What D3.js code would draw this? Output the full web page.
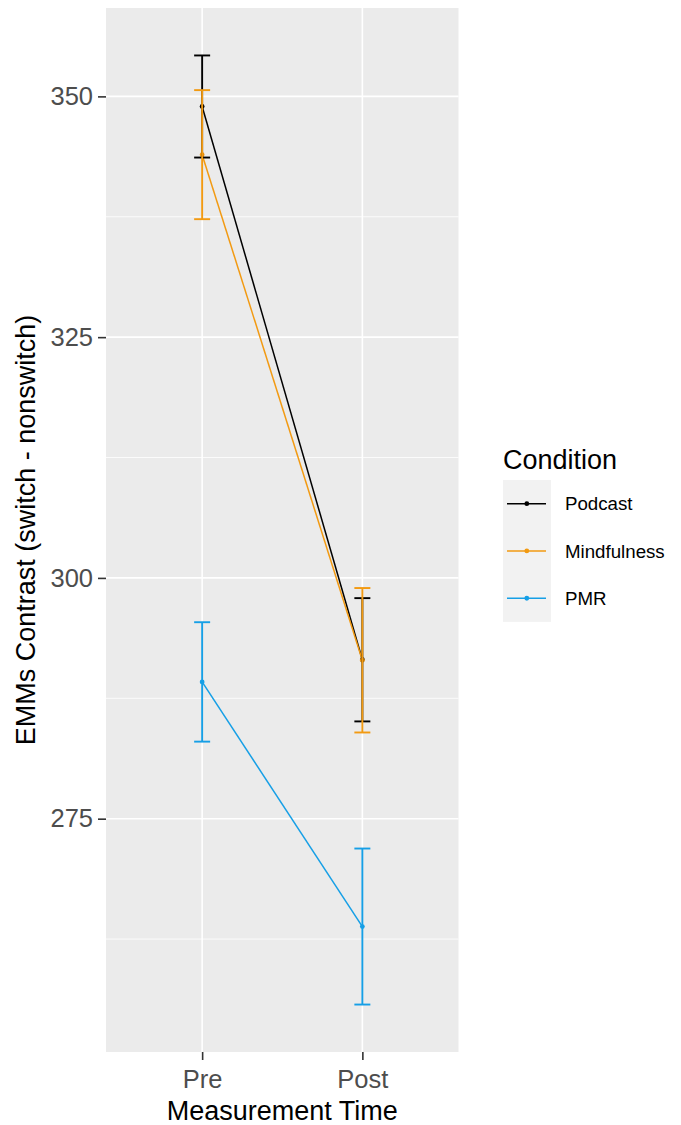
<!DOCTYPE html>
<html>
<head>
<meta charset="utf-8">
<script src="https://cdn.jsdelivr.net/npm/d3@7"></script>
<style>
  html, body { margin: 0; padding: 0; background: #fff; }
  svg { display: block; font-family: "Liberation Sans", Arial, sans-serif; }
</style>
</head>
<body>
<svg id="chart" width="681" height="1125"></svg>
<script>
// ---- data ----
const times = ["Pre", "Post"];
const conditions = ["Podcast", "Mindfulness", "PMR"];
const colors = ["#000000", "#F29A12", "#169FE6"];
const podcastMean = [348.95, 291.5];
const podcastSE = [5.3, 6.4];
const mindfulnessMean = [343.95, 291.45];
const mindfulnessSE = [6.7, 7.5];
const pmrMean = [289.2, 263.8];
const pmrSE = [6.2, 8.1];
const yTicks = [275, 300, 325, 350];
const yMinor = [262.5, 287.5, 312.5, 337.5];

const series = [
  { name: conditions[0], color: colors[0], mean: podcastMean, se: podcastSE },
  { name: conditions[1], color: colors[1], mean: mindfulnessMean, se: mindfulnessSE },
  { name: conditions[2], color: colors[2], mean: pmrMean, se: pmrSE }
];

// ---- layout ----
const panel = { left: 106, right: 458.5, top: 8, bottom: 1052 };
const svg = d3.select("#chart");

const lo = d3.min(series, s => d3.min(s.mean.map((m, i) => m - s.se[i])));
const hi = d3.max(series, s => d3.max(s.mean.map((m, i) => m + s.se[i])));
const pad = (hi - lo) * 0.05;
const y = d3.scaleLinear().domain([lo - pad, hi + pad]).range([panel.bottom, panel.top]);
const x = d3.scalePoint().domain(times).range([panel.left, panel.right]).padding(0.6);

svg.append("rect")
  .attr("x", panel.left).attr("y", panel.top)
  .attr("width", panel.right - panel.left).attr("height", panel.bottom - panel.top)
  .attr("fill", "#EBEBEB");

svg.append("g").selectAll("line").data(yMinor).join("line")
  .attr("x1", panel.left).attr("x2", panel.right)
  .attr("y1", d => y(d)).attr("y2", d => y(d))
  .attr("stroke", "#fff").attr("stroke-width", 0.8);

svg.append("g").selectAll("line").data(yTicks).join("line")
  .attr("x1", panel.left).attr("x2", panel.right)
  .attr("y1", d => y(d)).attr("y2", d => y(d))
  .attr("stroke", "#fff").attr("stroke-width", 1.6);
svg.append("g").selectAll("line").data(times).join("line")
  .attr("x1", d => x(d)).attr("x2", d => x(d))
  .attr("y1", panel.top).attr("y2", panel.bottom)
  .attr("stroke", "#fff").attr("stroke-width", 1.6);

const yAxis = svg.append("g").attr("transform", `translate(${panel.left},0)`)
  .call(d3.axisLeft(y).tickValues(yTicks).tickSize(8).tickPadding(5).tickFormat(d3.format("d")));
yAxis.select(".domain").remove();
yAxis.selectAll(".tick line").attr("stroke", "#333").attr("stroke-width", 1.6);
yAxis.selectAll(".tick text").attr("fill", "#4D4D4D").style("font-size", "25.5px")
  .attr("font-family", "Liberation Sans, Arial, sans-serif");

const xAxis = svg.append("g").attr("transform", `translate(0,${panel.bottom})`)
  .call(d3.axisBottom(x).tickSize(8).tickPadding(10));
xAxis.select(".domain").remove();
xAxis.selectAll(".tick line").attr("stroke", "#333").attr("stroke-width", 1.6);
xAxis.selectAll(".tick text").attr("fill", "#4D4D4D").style("font-size", "25.5px")
  .attr("font-family", "Liberation Sans, Arial, sans-serif");

svg.append("text")
  .attr("x", (panel.left + panel.right) / 2).attr("y", 1120)
  .attr("text-anchor", "middle").style("font-size", "27px").attr("fill", "#000")
  .text("Measurement Time");
svg.append("text")
  .attr("transform", `translate(35,${(panel.top + panel.bottom) / 2}) rotate(-90)`)
  .attr("text-anchor", "middle").style("font-size", "27px").attr("fill", "#000")
  .text("EMMs Contrast (switch - nonswitch)");

const line = d3.line().x((d, i) => x(times[i])).y(d => y(d));
svg.append("g").selectAll("path").data(series).join("path")
  .attr("d", s => line(s.mean))
  .attr("fill", "none").attr("stroke", s => s.color).attr("stroke-width", 1.5);

series.forEach(s => {
  svg.append("g").selectAll("circle").data(s.mean).join("circle")
    .attr("cx", (d, i) => x(times[i])).attr("cy", d => y(d)).attr("r", 2.4)
    .attr("fill", s.color);
});

const capHalf = 8;
series.forEach(s => {
  const g = svg.append("g").attr("stroke", s.color).attr("stroke-width", 1.9);
  s.mean.forEach((m, i) => {
    const cx = x(times[i]);
    const top = y(m + s.se[i]), bot = y(m - s.se[i]);
    g.append("line").attr("x1", cx).attr("x2", cx).attr("y1", top).attr("y2", bot);
    g.append("line").attr("x1", cx - capHalf).attr("x2", cx + capHalf).attr("y1", top).attr("y2", top);
    g.append("line").attr("x1", cx - capHalf).attr("x2", cx + capHalf).attr("y1", bot).attr("y2", bot);
  });
});

const lg = svg.append("g");
lg.append("text").attr("x", 503).attr("y", 468.5).style("font-size", "27px").attr("fill", "#000")
  .text("Condition");
const keyH = 47.3, keyTop = 480;
lg.append("rect").attr("x", 503).attr("y", keyTop).attr("width", 48).attr("height", keyH * series.length)
  .attr("fill", "#F2F2F2");
series.forEach((s, i) => {
  const cy = keyTop + keyH * i + keyH / 2;
  lg.append("line").attr("x1", 507).attr("x2", 546).attr("y1", cy).attr("y2", cy)
    .attr("stroke", s.color).attr("stroke-width", 1.5);
  lg.append("circle").attr("cx", 526.8).attr("cy", cy).attr("r", 2.4).attr("fill", s.color);
  lg.append("text").attr("x", 565).attr("y", cy).attr("dy", "0.36em")
    .style("font-size", "18.7px").attr("fill", "#000").text(s.name);
});
</script>
</body>
</html>
